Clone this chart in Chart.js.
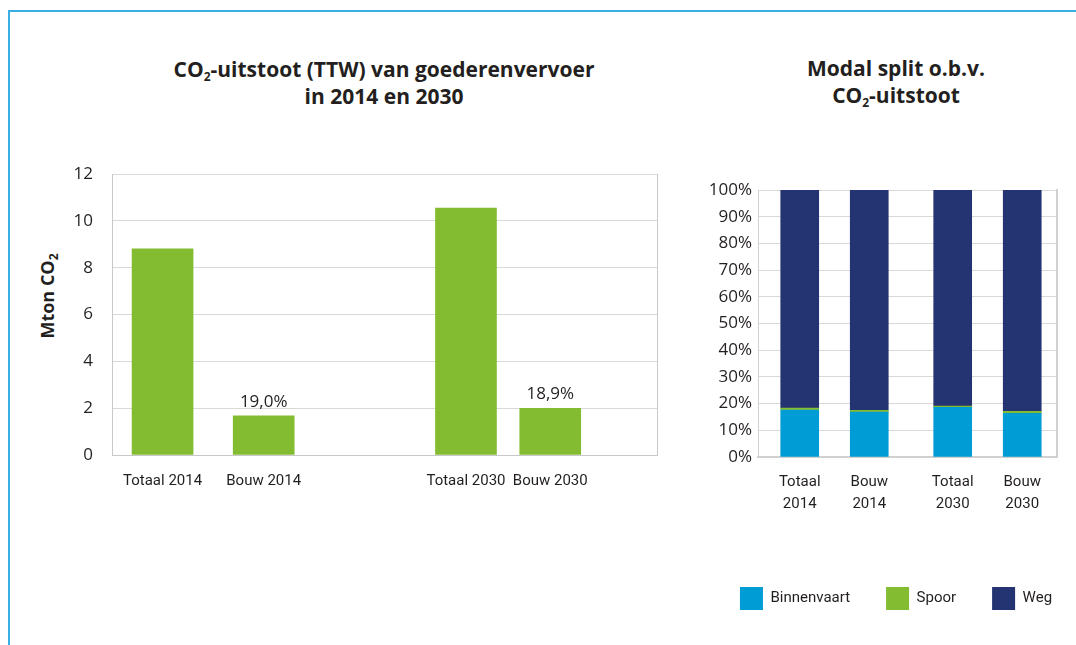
<!DOCTYPE html>
<html>
<head>
<meta charset="utf-8">
<script src="https://cdn.jsdelivr.net/npm/chart.js@4"></script>
<style>
  body { margin: 0; width: 1076px; height: 645px; background: #fff; position: relative; overflow: hidden;
         font-family: "Open Sans", sans-serif; color: #231f20; }
  .frame { position: absolute; left: 8px; top: 10px; right: 0; bottom: 0;
           border-left: 2px solid #3aaee2; border-top: 2px solid #3aaee2; }
  .title { position: absolute; font-weight: 700; font-size: 21px; line-height: 27px; text-align: center; white-space: nowrap; }
  .title sub, .ytitle sub { font-size: 12px; vertical-align: -4px; line-height: 0; }
  #t1 { left: 134px; width: 500px; top: 56px; }
  #t2 { left: 796px; width: 200px; top: 55px; }
  .ytitle { position: absolute; left: 47px; top: 296px; transform: translate(-50%, -50%) rotate(-90deg);
            font-weight: 700; font-size: 18px; white-space: nowrap; }
  canvas { position: absolute; }
</style>
</head>
<body>
<div class="frame"></div>
<div class="title" id="t1">CO<sub>2</sub>-uitstoot (TTW) van goederenvervoer<br>in 2014 en 2030</div>
<div class="title" id="t2">Modal split o.b.v.<br>CO<sub>2</sub>-uitstoot</div>
<div class="ytitle">Mton CO<sub>2</sub></div>
<canvas id="co2" width="680" height="370" style="left:0;top:150px"></canvas>
<canvas id="split" width="420" height="480" style="left:686px;top:150px"></canvas>
<script>
// ====== DATA ======
const co2Categories = ['Totaal 2014', 'Bouw 2014', 'Totaal 2030', 'Bouw 2030'];
const co2Values = [8.8, 1.67, 10.54, 1.99];
const co2ShareLabels = ['', '19,0%', '', '18,9%'];
const co2Ticks = [0, 2, 4, 6, 8, 10, 12];

const splitCategories = [['Totaal', '2014'], ['Bouw', '2014'], ['Totaal', '2030'], ['Bouw', '2030']];
const splitSeries = ['Binnenvaart', 'Spoor', 'Weg'];
const binnenvaart = [17.6, 16.8, 18.6, 16.4];
const spoor = [0.7, 0.7, 0.5, 0.7];
const weg = [81.7, 82.5, 80.9, 82.9];

// ====== LAYOUT ======
// the source spaces its bars unevenly, so each category sits on a fine slot grid
const co2Slots = { count: 98, at: [9, 27, 63, 78] };
const splitSlots = { count: 44, at: [6, 16, 28, 38] };

function spread(slots, items, blank) {
    const out = new Array(slots.count).fill(blank);
    slots.at.forEach((s, i) => { out[s] = items[i]; });
    return out;
}

const textColor = '#231f20';
const gridColor = '#d9d9d9';
const tickFont = { family: '"Open Sans", sans-serif', size: 17 };
const narrowFont = { family: 'Roboto, sans-serif', size: 15, lineHeight: 1.42 };

Chart.defaults.color = textColor;
Chart.defaults.animation = false;

const shareLabelPlugin = {
    id: 'shareLabels',
    afterDatasetsDraw(chart) {
        const ctx = chart.ctx;
        const meta = chart.getDatasetMeta(0);
        ctx.save();
        ctx.font = '17px "Open Sans", sans-serif';
        ctx.fillStyle = textColor;
        ctx.textAlign = 'center';
        ctx.textBaseline = 'alphabetic';
        co2Slots.at.forEach((s, i) => {
            if (!co2ShareLabels[i]) return;
            const bar = meta.data[s];
            ctx.fillText(co2ShareLabels[i], bar.x, bar.y - 9);
        });
        ctx.restore();
    }
};

new Chart(document.getElementById('co2'), {
    type: 'bar',
    data: {
        labels: spread(co2Slots, co2Categories, ''),
        datasets: [{
            label: 'CO2',
            data: spread(co2Slots, co2Values, null),
            backgroundColor: '#84bc31',
            barThickness: 61
        }]
    },
    plugins: [shareLabelPlugin],
    options: {
        responsive: false,
        layout: { autoPadding: false, padding: { left: 0, right: 23, top: 24, bottom: 0 } },
        plugins: { legend: { display: false }, tooltip: { enabled: false } },
        scales: {
            x: {
                offset: false,
                grid: { display: false, drawTicks: false },
                border: { color: '#c8c8c8', width: 1 },
                ticks: { autoSkip: false, maxRotation: 0, minRotation: 0, padding: 16, font: narrowFont },
                afterFit: s => { s.height = 65; }
            },
            y: {
                min: co2Ticks[0],
                max: co2Ticks[co2Ticks.length - 1],
                ticks: { stepSize: 2, autoSkip: false, padding: 10, font: tickFont },
                grid: { color: gridColor, drawTicks: true, tickLength: 9, tickColor: 'rgba(0,0,0,0)' },
                border: { color: '#c8c8c8', width: 1 },
                afterFit: s => { s.width = 112; }
            },
            yRight: {
                position: 'right',
                min: 0, max: 12,
                ticks: { display: false },
                grid: { drawOnChartArea: false, drawTicks: false },
                border: { color: '#c8c8c8', width: 1 },
                afterFit: s => { s.width = 0; }
            }
        }
    }
});

const splitColors = ['#009cd6', '#84bc31', '#243372'];
const splitData = [binnenvaart, spoor, weg];

new Chart(document.getElementById('split'), {
    type: 'bar',
    data: {
        labels: spread(splitSlots, splitCategories, ''),
        datasets: splitSeries.map((name, i) => ({
            label: name,
            data: spread(splitSlots, splitData[i], null),
            backgroundColor: splitColors[i],
            barThickness: 38
        }))
    },
    options: {
        responsive: false,
        layout: { autoPadding: false, padding: { left: 0, right: 0, top: 40, bottom: 10 } },
        plugins: {
            tooltip: { enabled: false },
            legend: {
                position: 'bottom',
                labels: { boxWidth: 23, boxHeight: 23, padding: 36, font: narrowFont, color: textColor }
            }
        },
        scales: {
            x: {
                stacked: true,
                offset: false,
                grid: { display: false, drawTicks: false },
                border: { color: '#d0d0d0', width: 2 },
                ticks: { autoSkip: false, maxRotation: 0, minRotation: 0, padding: 15, font: narrowFont },
                afterFit: s => { s.height = 94; }
            },
            y: {
                stacked: true,
                min: 0, max: 100,
                ticks: { stepSize: 10, autoSkip: false, padding: 6, font: tickFont, callback: v => v + '%' },
                grid: { color: gridColor, drawTicks: false },
                border: { color: '#d0d0d0', width: 1 },
                afterFit: s => { s.width = 72; }
            },
            yRight: {
                position: 'right',
                min: 0, max: 100,
                ticks: { display: false },
                grid: { drawOnChartArea: false, drawTicks: false },
                border: { color: '#d0d0d0', width: 2 },
                afterFit: s => { s.width = 49; }
            }
        }
    }
});
</script>
</body>
</html>
